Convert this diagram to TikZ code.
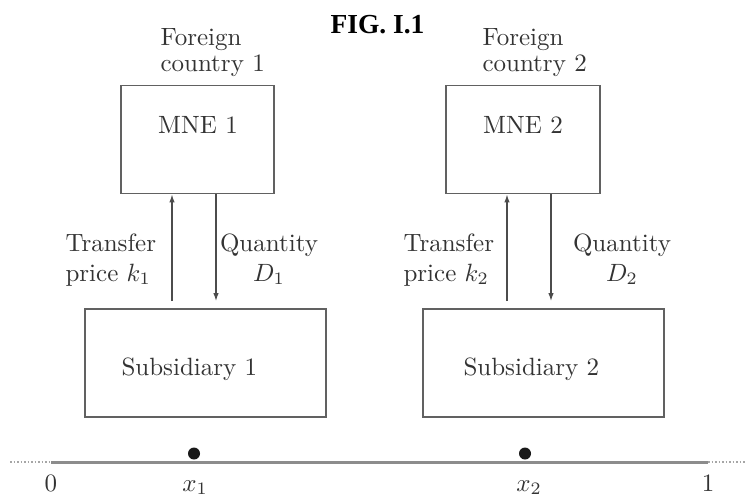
\documentclass[tikz,border=0pt]{standalone}
\usepackage{fontspec}
\newfontfamily\titlefont{Liberation Serif}
\usetikzlibrary{arrows.meta}

\begin{document}
\begin{tikzpicture}[x=1pt,y=-1pt,
  txt/.style={text=black!80, inner sep=0pt, scale=2.5, transform shape, font=\fontsize{10}{10.4}\selectfont},
  twoline/.style={font=\fontsize{10}{12}\selectfont},
  box/.style={draw=black!62, line width=1.8pt, inner sep=0pt, minimum height=108pt},
  flow/.style={draw=black!70, line width=1.3pt, -{Latex[length=8pt,width=5.5pt]}},
  axis/.style={draw=black!45, line width=3pt},
  axisdots/.style={draw=black!35, line width=1.5pt, dotted},
  tick/.style={txt, anchor=base},
]
\useasboundingbox (0,0) rectangle (745,499);

% title
\node[anchor=base, inner sep=0pt, font=\titlefont\bfseries\fontsize{27.5}{30}\selectfont] (title) at (377.5,33) {FIG. I.1};

% parent firms abroad (multi-line nodes sit on their last baseline)
\node[txt, anchor=base west, align=left] (fc1) at (160,71) {Foreign\\country 1};
\node[txt, anchor=base west, align=left] (fc2) at (482,71) {Foreign\\country 2};

\node[box, minimum width=153pt] (mne1) at (197.5,139.5) {};
\node[box, minimum width=154pt] (mne2) at (523,139.5) {};
\node[txt, anchor=base] (mnel1) at (198,133) {MNE 1};
\node[txt, anchor=base] (mnel2) at (523,133) {MNE 2};

% subsidiaries
\node[box, minimum width=241pt] (sub1) at (205.5,363) {};
\node[box, minimum width=241pt] (sub2) at (543.5,363) {};
\node[txt, anchor=base west] (subl1) at (121,375) {Subsidiary 1};
\node[txt, anchor=base west] (subl2) at (463,375) {Subsidiary 2};

% flows between subsidiary and parent
\coordinate (up1) at (172,0);
\coordinate (dn1) at (216,0);
\coordinate (up2) at (507,0);
\coordinate (dn2) at (551,0);
\draw[flow, shorten <=7pt] (sub1.north -| up1) -- (mne1.south -| up1);
\draw[flow, shorten >=7pt] (mne1.south -| dn1) -- (sub1.north -| dn1);
\draw[flow, shorten <=7pt] (sub2.north -| up2) -- (mne2.south -| up2);
\draw[flow, shorten >=7pt] (mne2.south -| dn2) -- (sub2.north -| dn2);

\node[txt, twoline, anchor=base west, align=left] (tp1) at (65,281) {Transfer\\price $k_1$};
\node[txt, twoline, anchor=base, align=center] (q1) at (269,281) {Quantity\\$D_1$};
\node[txt, twoline, anchor=base west, align=left] (tp2) at (403,281) {Transfer\\price $k_2$};
\node[txt, twoline, anchor=base, align=center] (q2) at (622,281) {Quantity\\$D_2$};

% the unit interval
\coordinate (a0) at (51,462);
\coordinate (a1) at (708,462);
\coordinate (l0) at (10,462);
\coordinate (r0) at (745,462);
\draw[axisdots] (l0) -- (a0);
\draw[axisdots] (a1) -- (r0);
\draw[axis] (a0) -- (a1);
\fill[black!90] (194,453.5) circle (6);
\fill[black!90] (525,453.5) circle (6);

\node[tick] (t0) at (51,491) {0};
\node[tick] (tx1) at (195,491) {$x_1$};
\node[tick] (tx2) at (529,491) {$x_2$};
\node[tick] (t1) at (708,491) {1};
\end{tikzpicture}
\end{document}
